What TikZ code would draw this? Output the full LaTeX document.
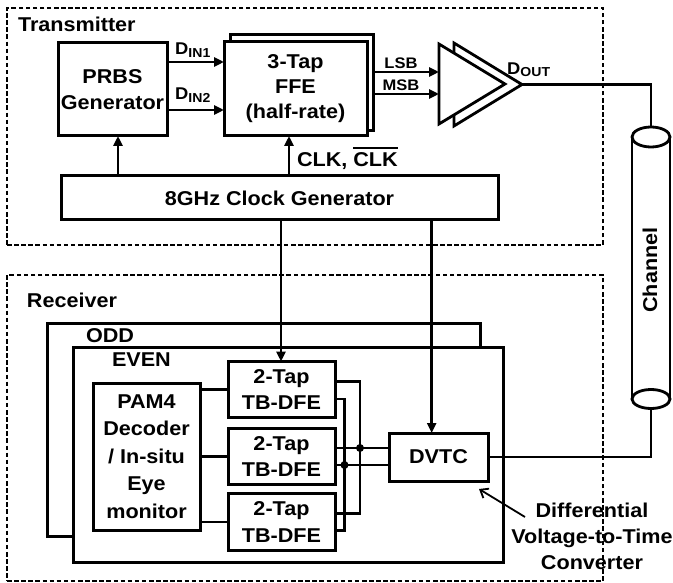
\documentclass[tikz,border=0pt]{standalone}
\usepackage{fontspec}
\setmainfont[FakeStretch=1.08]{Liberation Sans}
\usetikzlibrary{arrows.meta,calc}
\newcommand\lblfont{\fontsize{20}{26.5}\selectfont\bfseries}
\newcommand\myovl[1]{\setbox0\hbox{#1}\rlap{\rule[\dimexpr\ht0+3pt\relax]{\wd0}{2.2pt}}\box0}
\newcommand\mysub[2]{\raisebox{-#2}{\fontsize{13}{13}\selectfont\bfseries #1}}
\begin{document}
\begin{tikzpicture}[x=1pt,y=-1pt,
  box/.style={draw, line width=3pt, fill=white, inner sep=0pt, outer sep=0pt, align=center, font=\lblfont},
  dashbox/.style={draw, line width=2.6pt, dash pattern=on 4.5pt off 2.6pt, inner sep=0pt, outer sep=0pt},
  wire/.style={line width=2.8pt},
  arr/.style={wire, -{Triangle[length=10pt,width=9pt]}},
  lbl/.style={font=\lblfont, inner sep=0pt, outer sep=0pt},
  dot/.style={circle, fill=black, inner sep=0pt, minimum size=8pt}]
\useasboundingbox (0,0) rectangle (673,583);

% ---------- Transmitter ----------
\node[dashbox, minimum width=596pt, minimum height=237pt] (tx) at (305,126.5) {};
\node[lbl, anchor=west] (txl) at (18,24) {Transmitter};

\node[box, minimum width=109pt, minimum height=93pt] (prbs) at (112.5,89.5) {PRBS\\Generator};
\node[box, minimum width=143pt, minimum height=96pt] (ffeback) at (301.5,83) {};
\node[box, minimum width=143pt, minimum height=94pt] (ffe) at (295.5,89) {3-Tap\\[-1.5pt]FFE\\[-1.5pt](half-rate)};
\node[box, minimum width=437pt, minimum height=44pt] (clk) at (279.5,198) {8GHz Clock Generator};

\coordinate (din1) at (0,62);
\coordinate (din2) at (0,110);
\draw[arr] (prbs.east |- din1) -- (ffe.west |- din1);
\draw[arr] (prbs.east |- din2) -- (ffe.west |- din2);
\node[anchor=base west, inner sep=0pt] (dinl1) at (175,55) {\fontsize{17}{17}\selectfont\bfseries D\mysub{IN1}{2.5pt}};
\node[anchor=base west, inner sep=0pt] (dinl2) at (175,100) {\fontsize{17}{17}\selectfont\bfseries D\mysub{IN2}{2.5pt}};

\coordinate (ckA) at (118,0);
\coordinate (ckB) at (289,0);
\coordinate (ckC) at (281,0);
\coordinate (ckD) at (431.7,0);
\draw[arr] (clk.north -| ckA) -- (prbs.south -| ckA);
\draw[arr] (clk.north -| ckB) -- (ffe.south -| ckB);
\node[lbl, anchor=west] (clkl) at (297,158) {CLK, \myovl{CLK}};

% amplifier
\filldraw[fill=white, line width=2.8pt] (454,43) -- (522,84.5) -- (454,126) -- cycle;
\filldraw[fill=white, line width=2.8pt] (439,44) -- (505,84) -- (439,124) -- cycle;
\coordinate (amptip) at (522,84.5);
\coordinate (ampin1) at (439,72);
\coordinate (ampin2) at (439,94);
\draw[arr] (ffeback.east |- ampin1) -- (ampin1);
\draw[arr] (ffeback.east |- ampin2) -- (ampin2);
\node[inner sep=0pt, font={\fontsize{15.3}{15.3}\selectfont\bfseries}] (lsb) at (401,63) {LSB};
\node[inner sep=0pt, font={\fontsize{15.3}{15.3}\selectfont\bfseries}] (msb) at (401,85) {MSB};
\node[anchor=base west, inner sep=0pt] (doutl) at (507,75) {\fontsize{17}{17}\selectfont\bfseries D\mysub{OUT}{1.7pt}};

% channel
\draw[wire] (632,137) -- (632,399);
\draw[wire] (670,137) -- (670,399);
\draw[wire, fill=white] (651,137) ellipse (19 and 10);
\draw[wire, fill=white] (651,399) ellipse (19 and 9.5);
\coordinate (chtop) at (651,127);
\coordinate (chbot) at (651,408.5);
\node[lbl, rotate=90] (chl) at (650,270) {Channel};
\draw[wire] (amptip) -| (chtop);

% ---------- Receiver ----------
\node[dashbox, minimum width=596pt, minimum height=306pt] (rx) at (305,428) {};
\node[lbl, anchor=west] (rxl) at (27,300) {Receiver};

\node[box, minimum width=433pt, minimum height=213pt] (odd) at (263.5,429.5) {};
\node[box, minimum width=430pt, minimum height=215pt] (even) at (288,454.5) {};
\node[lbl, anchor=west] (oddl) at (86,336) {ODD};
\node[lbl, anchor=west] (evenl) at (112,360) {EVEN};

\node[box, minimum width=107pt, minimum height=147pt, font={\fontsize{20}{27.5}\selectfont\bfseries}] (pam) at (146.5,456.5) {PAM4\\Decoder\\/ In-situ\\Eye\\monitor};
\node[box, minimum width=107pt, minimum height=56pt] (dfe1) at (281.5,389.5) {2-Tap\\TB-DFE};
\node[box, minimum width=107pt, minimum height=56pt] (dfe2) at (281.5,456.5) {2-Tap\\TB-DFE};
\node[box, minimum width=107pt, minimum height=57pt] (dfe3) at (281.5,522) {2-Tap\\TB-DFE};
\node[box, minimum width=99pt, minimum height=48pt] (dvtc) at (438.5,457) {DVTC};

\draw[wire] (pam.east |- dfe1.west) -- (dfe1.west);
\draw[wire] (pam.east |- dfe2.west) -- (dfe2.west);
\draw[wire] (pam.east |- dfe3.west) -- (dfe3.west);

\coordinate (busO) at (360,0);
\coordinate (busI) at (344.5,0);
\coordinate (inA) at (0,448);
\coordinate (inB) at (0,465);
\draw[wire] ($(dfe1.east)+(0,-8)$) -| ($(busO |- dfe3.east)+(0,-8.7)$) -- ($(dfe3.east)+(0,-8.7)$);
\draw[wire] ($(dfe1.east)+(0,9.5)$) -| ($(busI |- dfe3.east)+(0,8.7)$) -- ($(dfe3.east)+(0,8.7)$);
\draw[wire] (dfe2.east |- inA) -- (dvtc.west |- inA);
\draw[wire] (dfe2.east |- inB) -- (dvtc.west |- inB);
\node[dot] (dotA) at (busO |- inA) {};
\node[dot] (dotB) at (busI |- inB) {};

\draw[arr] (clk.south -| ckC) -- (dfe1.north -| ckC);
\draw[arr] (clk.south -| ckD) -- (dvtc.north -| ckD);

\draw[wire] (dvtc.east) -| (chbot);

\node[lbl, align=center, font={\fontsize{20}{26}\selectfont\bfseries}] (note) at (592,536) {Differential\\Voltage-to-Time\\Converter};
\coordinate (annS) at (525,517);
\coordinate (annE) at (479,489);
\draw[line width=1.8pt, -{Straight Barb[length=7pt,width=11pt]}] (annS) -- (annE);
\end{tikzpicture}
\end{document}
